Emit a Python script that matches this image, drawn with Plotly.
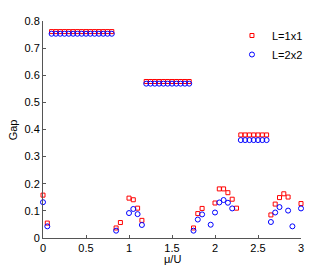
import plotly.graph_objects as go

# L=1x1 (red squares)
x_red = [0.0, 0.05,
         0.1, 0.15, 0.2, 0.25, 0.3, 0.35, 0.4, 0.45, 0.5, 0.55, 0.6, 0.65, 0.7, 0.75, 0.8,
         0.85, 0.9, 1.0, 1.05, 1.1, 1.15,
         1.2, 1.25, 1.3, 1.35, 1.4, 1.45, 1.5, 1.55, 1.6, 1.65, 1.7,
         1.75, 1.8, 1.85, 2.0, 2.05, 2.1, 2.15, 2.2, 2.25,
         2.3, 2.35, 2.4, 2.45, 2.5, 2.55, 2.6,
         2.65, 2.7, 2.75, 2.8, 2.85, 3.0]
y_red = [0.158, 0.055,
         0.761, 0.761, 0.761, 0.761, 0.761, 0.761, 0.761, 0.761, 0.761, 0.761, 0.761, 0.761, 0.761, 0.761, 0.761,
         0.037, 0.057, 0.147, 0.141, 0.110, 0.065,
         0.577, 0.577, 0.577, 0.577, 0.577, 0.577, 0.577, 0.577, 0.577, 0.577, 0.577,
         0.037, 0.090, 0.109, 0.129, 0.181, 0.181, 0.167, 0.143, 0.110,
         0.380, 0.380, 0.380, 0.380, 0.380, 0.380, 0.380,
         0.085, 0.125, 0.149, 0.163, 0.151, 0.127]

# L=2x2 (blue circles)
x_blue = [0.0, 0.05,
          0.1, 0.15, 0.2, 0.25, 0.3, 0.35, 0.4, 0.45, 0.5, 0.55, 0.6, 0.65, 0.7, 0.75, 0.8,
          0.85, 1.0, 1.05, 1.1, 1.15,
          1.2, 1.25, 1.3, 1.35, 1.4, 1.45, 1.5, 1.55, 1.6, 1.65, 1.7,
          1.75, 1.8, 1.85, 1.95, 2.0, 2.05, 2.1, 2.15, 2.2,
          2.3, 2.35, 2.4, 2.45, 2.5, 2.55, 2.6,
          2.65, 2.7, 2.75, 2.85, 2.9, 3.0]
y_blue = [0.132, 0.043,
          0.753, 0.753, 0.753, 0.753, 0.753, 0.753, 0.753, 0.753, 0.753, 0.753, 0.753, 0.753, 0.753, 0.753, 0.753,
          0.027, 0.092, 0.107, 0.088, 0.048,
          0.569, 0.569, 0.569, 0.569, 0.569, 0.569, 0.569, 0.569, 0.569, 0.569, 0.569,
          0.027, 0.068, 0.087, 0.049, 0.094, 0.131, 0.140, 0.130, 0.109,
          0.361, 0.361, 0.361, 0.361, 0.361, 0.361, 0.361,
          0.059, 0.094, 0.114, 0.101, 0.043, 0.109]

x_ticks = [0, 0.5, 1, 1.5, 2, 2.5, 3]
x_tick_text = ["0", "0.5", "1", "1.5", "2", "2.5", "3"]
y_ticks = [0, 0.1, 0.2, 0.3, 0.4, 0.5, 0.6, 0.7, 0.8]
y_tick_text = ["0", "0.1", "0.2", "0.3", "0.4", "0.5", "0.6", "0.7", "0.8"]
x_title = "μ/U"
y_title = "Gap"

fig = go.Figure()
fig.add_trace(go.Scatter(x=x_red, y=y_red, mode="markers", name="L=1x1", cliponaxis=False,
                         marker=dict(symbol="square-open", size=4, color="#ff0000",
                                     line=dict(width=1, color="#ff0000"))))
fig.add_trace(go.Scatter(x=x_blue, y=y_blue, mode="markers", name="L=2x2", cliponaxis=False,
                         marker=dict(symbol="circle-open", size=5, color="#0000ff",
                                     line=dict(width=1, color="#0000ff"))))

font = dict(family="Liberation Sans, Arial, Helvetica, sans-serif", size=11, color="#000000")
fig.update_layout(
    width=332, height=269,
    margin=dict(l=35, r=39, t=13, b=39, autoexpand=False),
    paper_bgcolor="white", plot_bgcolor="white",
    font=font,
    showlegend=True,
    legend=dict(x=1.027, y=1.0, xanchor="right", yanchor="top",
                bgcolor="rgba(0,0,0,0)", font=dict(size=11), tracegroupgap=0,
                itemwidth=30),
    annotations=[
        dict(text=x_title, xref="paper", yref="paper", x=0.5, y=-0.095,
             xanchor="center", yanchor="middle", showarrow=False, font=dict(size=11)),
        dict(text=y_title, xref="paper", yref="paper", x=-0.117, y=0.5, textangle=-90,
             xanchor="center", yanchor="middle", showarrow=False, font=dict(size=11)),
    ],
)
fig.update_xaxes(range=[0, 3], tickvals=x_ticks, ticktext=x_tick_text, automargin=False,
                 showgrid=False, zeroline=False, showline=True, linecolor="#555555",
                 linewidth=1, ticks="inside", ticklen=3, tickcolor="#555555")
fig.update_yaxes(range=[0, 0.8], tickvals=y_ticks, ticktext=y_tick_text, automargin=False,
                 showgrid=False, zeroline=False, showline=True, linecolor="#555555",
                 linewidth=1, ticks="inside", ticklen=3, tickcolor="#555555")

fig.write_html("out.html")
